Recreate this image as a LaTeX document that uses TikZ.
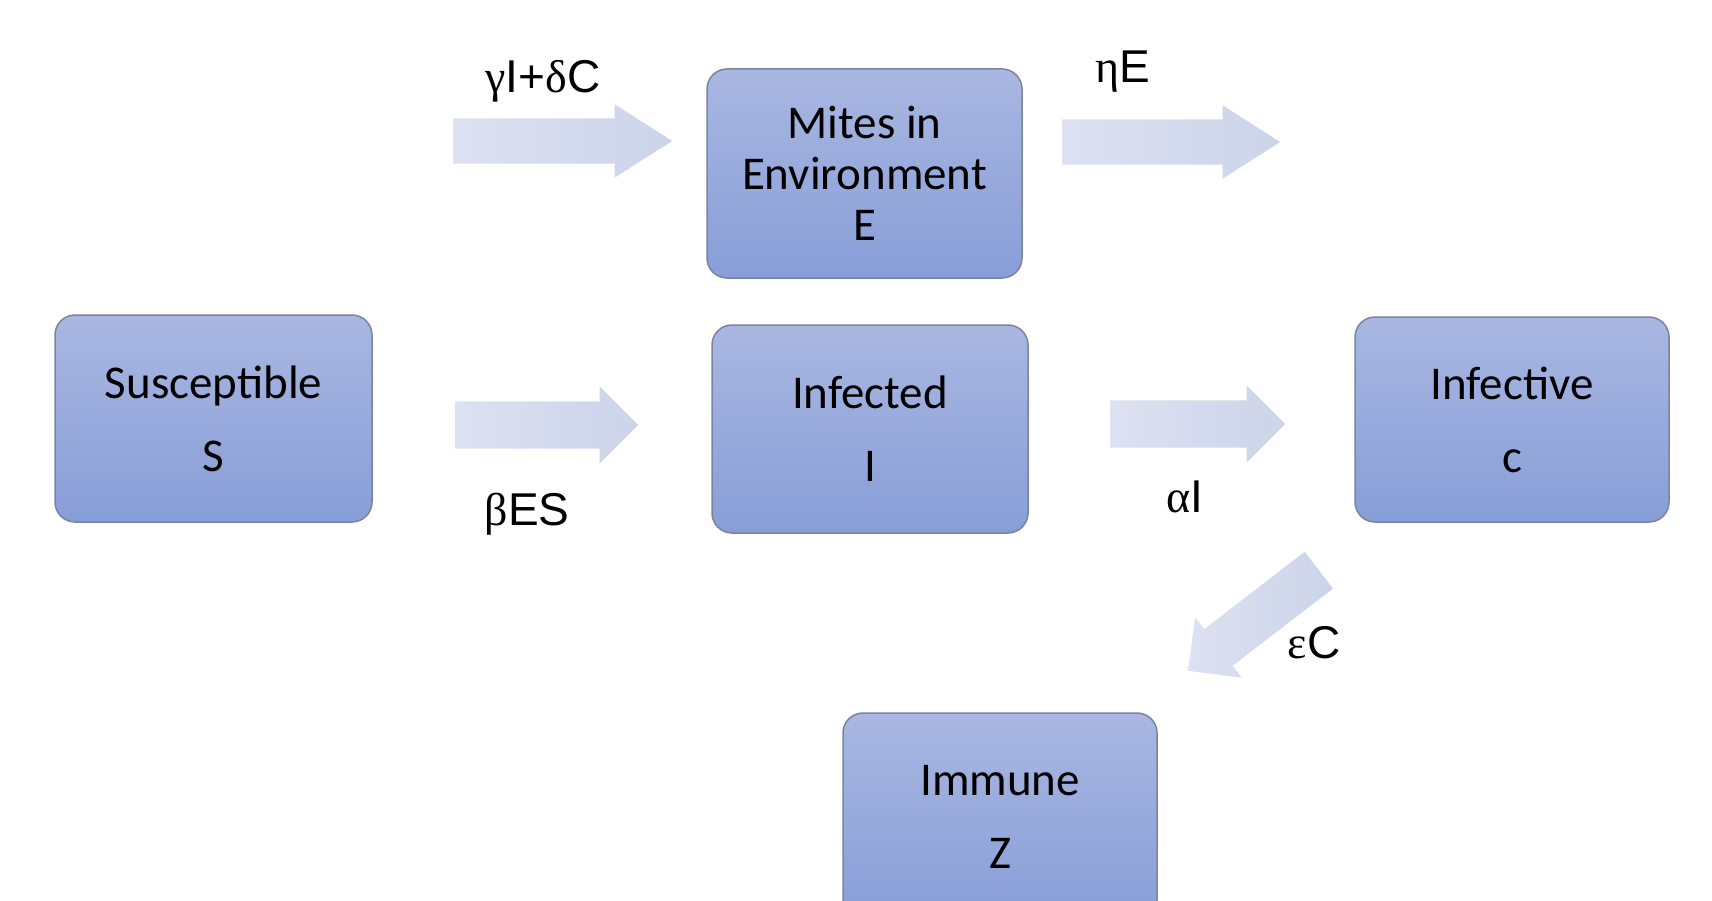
\documentclass[tikz,border=0pt]{standalone}
\usepackage{fontspec}
\usetikzlibrary{shapes.arrows}
\newfontfamily\boxfont{Carlito}
\newfontfamily\ratefont{Liberation Sans}
\newfontfamily\greekfont{Liberation Serif}
\definecolor{boxtop}{HTML}{A9B7E1}
\definecolor{boxbot}{HTML}{889ED8}
\definecolor{boxline}{HTML}{7A849E}
\definecolor{flowlite}{HTML}{DDE1F1}
\definecolor{flowdark}{HTML}{CCD4EA}

\tikzset{
	compartment/.style={draw=boxline, line width=1.5pt, rounded corners=20pt, top color=boxtop, bottom color=boxbot, minimum width=315pt, minimum height=207pt, align=center, font=\boxfont\fontsize{47}{51}\selectfont},
	flow/.style={single arrow, anchor=tail, left color=flowlite, right color=flowdark, inner xsep=0pt, inner ysep=23.5pt, minimum width=0pt, single arrow head extend=15pt, single arrow tip angle=90},
	rate/.style={anchor=base, inner sep=0pt, font=\ratefont\fontsize{46}{50}\selectfont}
}

\begin{document}
\begin{tikzpicture}[x=1pt, y=-1pt]
		\useasboundingbox (0,0) rectangle (1712,901);
		\clip (0,0) rectangle (1712,901);
		
		\node (S) at (213.5,418.5) [compartment, minimum width=317pt] {Susceptible\\[22pt]S};
		\node (E) at (864.5,173.5) [compartment, minimum height=209pt] {Mites in\\Environment\\E};
		\node (I) at (870,429) [compartment, minimum width=316pt, minimum height=208pt] {Infected\\[22pt]I};
		\node (C) at (1512,419.5) [compartment, minimum width=314pt, minimum height=205pt] {Infective\\[22pt]c};
		\node (Z) at (1000,816.5) [compartment, minimum width=314pt] {Immune\\[22pt]Z};
		
		% block arrows, placed by their tails
		\node (fEin) at (453,141) [flow, minimum height=219pt, inner ysep=22.5pt, single arrow head extend=14pt, single arrow tip angle=65] {};
		\node (fEout) at (1062,142) [flow, minimum height=218pt, inner ysep=22.5pt, single arrow head extend=14pt, single arrow tip angle=65] {};
		\node (fSI) at (455,425) [flow, minimum height=183pt] {};
		\node (fIC) at (1110,424) [flow, minimum height=175pt] {};
		\node (fCZ) at (1319,570) [flow, minimum height=165pt, inner ysep=23pt, rotate=217.6] {};
		
		\node (lEin) at (543,93) [rate] {{\greekfont γ}I+{\greekfont δ}C};
		\node (lEout) at (1123,83) [rate] {{\greekfont η}E};
		\node (lSI) at (527,525) [rate] {{\greekfont β}ES};
		\node (lIC) at (1185,512) [rate] {{\greekfont α}I};
		\node (lCZ) at (1314,658) [rate] {{\greekfont ε}C};
		
	\end{tikzpicture}
\end{document}
